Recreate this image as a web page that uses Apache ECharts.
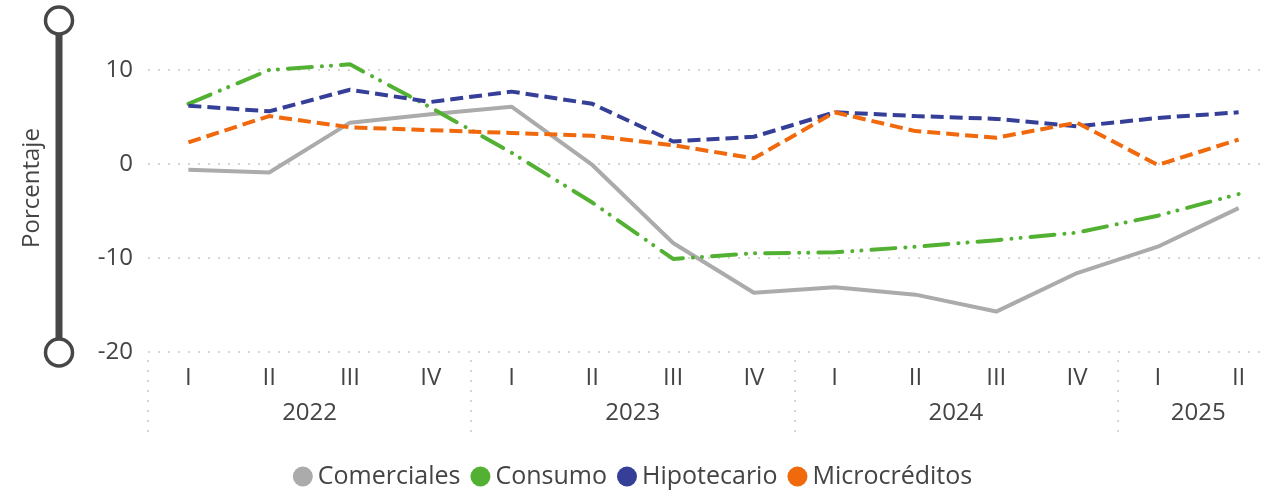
<!DOCTYPE html>
<html>
<head>
<meta charset="utf-8">
<script src="https://cdn.jsdelivr.net/npm/echarts@6/dist/echarts.min.js"></script>
<style>
  html, body { margin: 0; padding: 0; background: #fff; }
  #chart { width: 1265px; height: 491px; }
</style>
</head>
<body>
<div id="chart"></div>
<script>
var trimestres = ['I', 'II', 'III', 'IV', 'I', 'II', 'III', 'IV', 'I', 'II', 'III', 'IV', 'I', 'II'];
var anios = ['2022', '2023', '2024', '2025'];

var comerciales = [-0.6, -0.9, 4.4, 5.3, 6.1, -0.1, -8.4, -13.7, -13.1, -13.9, -15.7, -11.6, -8.8, -4.7];
var consumo = [6.4, 10.0, 10.6, 6.0, 1.2, -4.1, -10.1, -9.5, -9.4, -8.8, -8.1, -7.3, -5.5, -3.2];
var hipotecario = [6.2, 5.6, 7.9, 6.6, 7.7, 6.4, 2.4, 2.9, 5.5, 5.1, 4.8, 4.0, 4.9, 5.5];
var microcreditos = [2.3, 5.1, 3.9, 3.6, 3.3, 3.0, 2.0, 0.6, 5.5, 3.5, 2.8, 4.4, -0.1, 2.6];

// eje de años: 29 medias posiciones, etiqueta en el centro de cada año
var aniosEje = [];
for (var k = 0; k <= 28; k++) aniosEje.push('');
aniosEje[4] = anios[0];
aniosEje[12] = anios[1];
aniosEje[20] = anios[2];
aniosEje[26] = anios[3];

var fuente = 'Open Sans';
var gris = '#444444';

var chart = echarts.init(document.getElementById('chart'));

var option = {
  animation: false,
  textStyle: { fontFamily: fuente },
  grid: { left: 148, top: 70, width: 1131, bottom: 139, outerBoundsMode: 'none', containLabel: false },
  legend: {
    bottom: -3,
    left: 'center',
    icon: 'circle',
    itemWidth: 20,
    itemHeight: 20,
    itemGap: 10,
    textStyle: { fontFamily: fuente, fontSize: 25, color: gris, padding: [0, 0, 0, 0] },
    data: ['Comerciales', 'Consumo', 'Hipotecario', 'Microcréditos']
  },
  xAxis: [
    {
      type: 'category',
      data: trimestres,
      boundaryGap: true,
      axisLine: { show: false },
      axisTick: { show: false },
      axisLabel: { color: gris, fontSize: 24, margin: 14, interval: 0, fontFamily: fuente }
    },
    {
      type: 'category',
      data: aniosEje,
      boundaryGap: false,
      position: 'bottom',
      offset: 8,
      axisLine: { show: false },
      axisTick: {
        show: true,
        length: 75,
        interval: function (i) { return i % 8 === 0 && i <= 24; },
        lineStyle: { color: '#c8c8c8', width: 1.5, type: [2, 8] }
      },
      axisLabel: { color: gris, fontSize: 24, margin: 41, interval: 0, fontFamily: fuente }
    }
  ],
  yAxis: {
    type: 'value',
    min: -20,
    max: 10,
    interval: 10,
    name: 'Porcentaje',
    nameLocation: 'middle',
    nameGap: 104,
    nameTextStyle: { color: gris, fontSize: 24, fontFamily: fuente, align: 'center', padding: [0, 0, 0, 46] },
    nameMoveOverlap: false,
    axisLine: { show: false },
    axisTick: { show: false },
    axisLabel: { color: gris, fontSize: 24, margin: 15, fontFamily: fuente },
    splitLine: { lineStyle: { color: '#c8c8c8', width: 1.5, type: [2, 8] } }
  },
  graphic: [
    { type: 'rect', shape: { x: 55.5, y: 20, width: 7, height: 332 }, style: { fill: '#474747' } },
    { type: 'circle', shape: { cx: 59, cy: 20.5, r: 13.5 }, style: { fill: '#fff', stroke: '#474747', lineWidth: 3.5 } },
    { type: 'circle', shape: { cx: 59, cy: 352.5, r: 13.5 }, style: { fill: '#fff', stroke: '#474747', lineWidth: 3.5 } }
  ],
  series: [
    {
      name: 'Comerciales', type: 'line', data: comerciales, symbol: 'none', clip: false,
      itemStyle: { color: '#ababab' },
      lineStyle: { color: '#ababab', width: 4 }
    },
    {
      name: 'Consumo', type: 'line', data: consumo, symbol: 'none', clip: false,
      itemStyle: { color: '#52b132' },
      lineStyle: { color: '#52b132', width: 4, type: [24, 10, 0.1, 9, 0.1, 10], cap: 'round' }
    },
    {
      name: 'Hipotecario', type: 'line', data: hipotecario, symbol: 'none', clip: false,
      itemStyle: { color: '#363f98' },
      lineStyle: { color: '#363f98', width: 4, type: [13, 6] }
    },
    {
      name: 'Microcréditos', type: 'line', data: microcreditos, symbol: 'none', clip: false,
      itemStyle: { color: '#f06a0d' },
      lineStyle: { color: '#f06a0d', width: 4, type: [13, 6] }
    }
  ]
};

chart.setOption(option);
</script>
</body>
</html>
